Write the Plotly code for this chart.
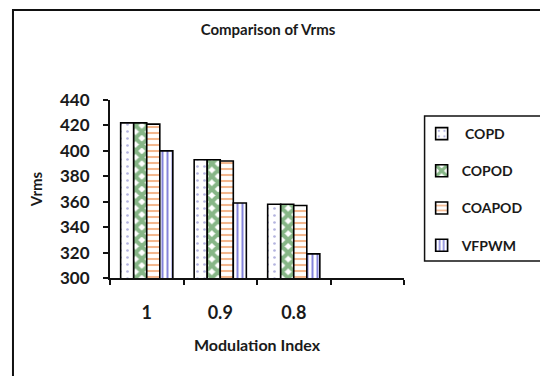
import plotly.graph_objects as go

categories = ["1", "0.9", "0.8"]
series_names = ["COPD", "COPOD", "COAPOD", "VFPWM"]
copd = [422, 393, 358]
copod = [422, 393, 358]
coapod = [421, 392, 357]
vfpwm = [400, 359, 319]
y_ticks = [300, 320, 340, 360, 380, 400, 420, 440]

values = [copd, copod, coapod, vfpwm]
patterns = [
    dict(shape=".", fgcolor="#6a6ac0", bgcolor="white", size=7, solidity=0.12),
    dict(shape="x", fgcolor="#0f6e0f", bgcolor="white", size=9, solidity=0.7),
    dict(shape="-", fgcolor="#e8701e", bgcolor="white", size=6, solidity=0.35),
    dict(shape="|", fgcolor="#0a0ab8", bgcolor="white", size=5, solidity=0.4),
]

FONT = "Lato"
xs = list(range(len(categories)))

fig = go.Figure()
for name, vals, pat in zip(series_names, values, patterns):
    fig.add_trace(go.Bar(
        x=xs, y=vals, name=" " + name if name == "COPD" else name,
        legendgroup=name,
        marker=dict(color="white", pattern=pat,
                    line=dict(color="#000000", width=1.6)),
    ))

W, H = 540, 376
L, R, T, B = 110, 130, 100, 98
pw, ph = W - L - R, H - T - B

def px2x(px):
    return (px - L) / pw

def py2y(py):
    return (H - B - py) / ph

fig.update_layout(
    width=W, height=H,
    margin=dict(l=L, r=R, t=T, b=B),
    paper_bgcolor="white", plot_bgcolor="white",
    barmode="group", bargap=0.29, bargroupgap=0,
    font=dict(family=FONT, color="#1a1a1a"),
    title=dict(text="<b>Comparison of Vrms</b>", x=268 / W, xanchor="center",
               y=1 - 30 / H, yanchor="middle",
               font=dict(size=15, family=FONT, color="#1a1a1a")),
    showlegend=True,
    legend=dict(x=px2x(428), y=py2y(118), xanchor="left", yanchor="top",
                bgcolor="rgba(0,0,0,0)", borderwidth=0,
                font=dict(size=14, family=FONT, color="#1a1a1a", weight="bold"),
                tracegroupgap=16, traceorder="grouped"),
    xaxis=dict(range=[-0.5, 3.5], tickvals=xs, ticktext=["<b>%s</b>" % c for c in categories],
               ticks="outside", ticklen=17, tickcolor="rgba(0,0,0,0)",
               tickfont=dict(size=18, family=FONT, color="#1a1a1a"),
               showline=True, linecolor="#111111", linewidth=2, showgrid=False,
               zeroline=False,
               minor=dict(tickvals=[-0.5, 0.5, 1.5, 2.5, 3.5], ticks="outside",
                          ticklen=5, tickcolor="#111111", tickwidth=1.5, showgrid=False),
               title=dict(text="<b>Modulation Index</b>", standoff=18,
                          font=dict(size=16, family=FONT, color="#1a1a1a"))),
    yaxis=dict(range=[300, 440], tickvals=y_ticks,
               ticktext=["<b>%d</b>" % v for v in y_ticks],
               ticks="outside", ticklen=5, tickwidth=1.5, tickcolor="#111111",
               ticklabelstandoff=10,
               tickfont=dict(size=17, family=FONT, color="#1a1a1a"),
               showline=True, linecolor="#111111", linewidth=2, showgrid=False,
               zeroline=False,
               title=dict(text="<b>Vrms</b>", standoff=14,
                          font=dict(size=15, family=FONT, color="#1a1a1a"))),
)

# outer chart border
fig.add_shape(type="rect", xref="paper", yref="paper",
              x0=px2x(11), x1=px2x(560), y0=py2y(400), y1=py2y(10),
              line=dict(color="#111111", width=2), fillcolor="rgba(0,0,0,0)", layer="below")
# legend box
fig.add_shape(type="rect", xref="paper", yref="paper",
              x0=px2x(431), x1=px2x(560), y0=py2y(261), y1=py2y(116),
              line=dict(color="#111111", width=1.5), fillcolor="rgba(0,0,0,0)", layer="below")

fig.write_html("out.html")
